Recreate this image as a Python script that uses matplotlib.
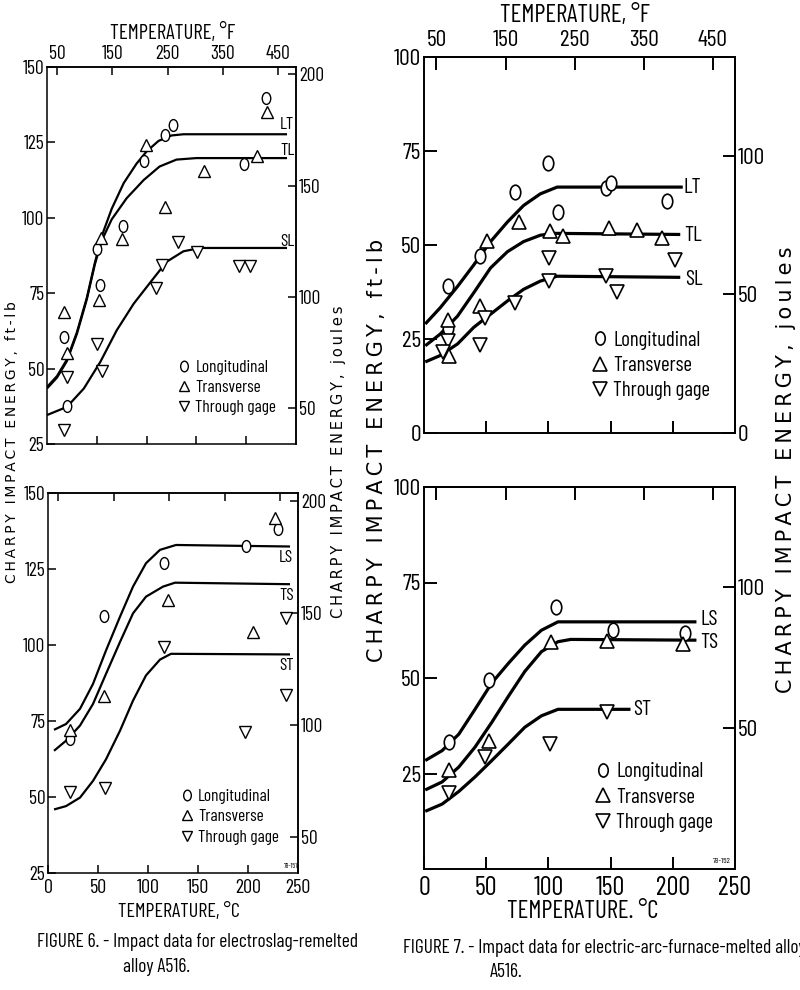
import matplotlib
matplotlib.use('Agg')
import matplotlib.pyplot as plt
from matplotlib import font_manager
from matplotlib.path import Path
from matplotlib.transforms import Affine2D
from matplotlib.lines import Line2D

# ---------------- data ----------------
# Figure 6, upper panel (LT, TL, SL)
f6a_long_x = [17, 20, 50, 53, 76, 97, 118, 127, 198, 220]
f6a_long_y = [60.5, 37.6, 89.8, 77.8, 97.2, 118.8, 127.6, 130.7, 118.0, 139.7]
f6a_trans_x = [17, 20, 52, 54.5, 75, 99, 118, 157.5, 211, 221]
f6a_trans_y = [68.8, 55.2, 72.9, 93.4, 92.9, 124.3, 103.6, 115.4, 120.4, 135.1]
f6a_thru_x = [17, 20, 50, 55, 109, 115, 132, 151, 193, 204]
f6a_thru_y = [29.6, 47.2, 58.1, 49.2, 76.7, 84.3, 92.0, 88.7, 84.0, 84.0]
f6a_lt_x = [0, 10, 20, 30, 40, 48, 55, 65, 77, 90, 100, 112, 125, 137, 241]
f6a_lt_y = [43.9, 47.5, 53, 62, 73.5, 85, 94, 103, 111.5, 118, 122, 125.5, 127.3, 127.7, 127.7]
f6a_tl_x = [0, 10, 20, 30, 40, 48, 55, 65, 80, 97, 113, 130, 150, 241]
f6a_tl_y = [43.4, 47, 52.5, 61.5, 73, 84.5, 92.5, 99.5, 106.5, 112.5, 117, 119.3, 119.8, 119.8]
f6a_sl_x = [0, 20, 37, 53.5, 70, 87, 104, 120, 137, 154, 241]
f6a_sl_y = [34.6, 37.3, 43.4, 52.2, 62.7, 71.5, 78.7, 85.4, 88.9, 90, 90]

# Figure 6, lower panel (LS, TS, ST)
f6b_long_x = [22, 56, 116, 198, 230]
f6b_long_y = [69.1, 109.5, 126.9, 132.7, 138.1]
f6b_trans_x = [22, 56, 120, 205, 227]
f6b_trans_y = [72, 83.1, 114.8, 104.3, 141.7]
f6b_thru_x = [22, 57, 116, 197, 238, 238]
f6b_thru_y = [51.8, 52.9, 99.3, 71.5, 109, 83.6]
f6b_ls_x = [6, 18, 32, 45, 58, 72, 85, 98, 112, 128, 242]
f6b_ls_y = [72.1, 74, 79, 87.2, 98.2, 109.3, 119.2, 126.9, 131.3, 132.9, 132.4]
f6b_ts_x = [6, 18, 32, 45, 58, 72, 85, 98, 115, 127, 242]
f6b_ts_y = [65.2, 68.5, 73.5, 80.6, 90.5, 101, 110.4, 115.9, 119.2, 120.5, 120]
f6b_st_x = [6, 18, 32, 45, 58, 72, 85, 98, 112, 123, 242]
f6b_st_y = [45.9, 47, 49.8, 55.3, 62.4, 71.8, 81.7, 90, 95.2, 97.1, 96.9]

# Figure 7, upper panel (LT, TL, SL)
f7a_long_x = [19, 19, 45, 73, 100, 107.5, 146.5, 150, 195]
f7a_long_y = [39, 28, 47, 64.2, 71.9, 58.8, 65.1, 66.6, 61.6]
f7a_trans_x = [19, 20, 45, 50.5, 76.7, 101.3, 111.8, 148.4, 171, 191.2]
f7a_trans_y = [30.1, 20.5, 33.7, 51, 56, 53.8, 52.5, 54.6, 53.9, 51.8]
f7a_thru_x = [19, 15.5, 45, 49, 73, 100.3, 100.3, 146.5, 155, 202]
f7a_thru_y = [24.6, 21.6, 23.5, 30.7, 34.7, 46.5, 40.4, 41.7, 37.5, 46.1]
f7a_lt_x = [1, 13, 27, 40, 53.5, 67, 80, 93.5, 107, 208]
f7a_lt_y = [29, 33.3, 39, 44.7, 50.9, 56.1, 60.5, 63.6, 65.4, 65.4]
f7a_tl_x = [1, 13, 27, 40, 53.5, 67, 80, 93.5, 104, 206]
f7a_tl_y = [23.2, 26.3, 31.1, 37.3, 43.9, 48.2, 50.9, 52.6, 53.1, 52.8]
f7a_sl_x = [1, 13, 27, 40, 53.5, 67, 80, 93.5, 107, 206]
f7a_sl_y = [18.9, 20.6, 23.7, 28.1, 31.6, 35.1, 38.2, 40.4, 41.7, 41.4]

# Figure 7, lower panel (LS, TS, ST)
f7b_long_x = [20, 52.4, 106, 151.6, 210]
f7b_long_y = [33.2, 49.4, 68.7, 62.5, 61.8]
f7b_trans_x = [20, 52, 102.4, 147, 208]
f7b_trans_y = [25.9, 33.6, 59.5, 59.7, 58.9]
f7b_thru_x = [20, 48.7, 101, 147]
f7b_thru_y = [19.8, 29.3, 32.8, 41.1]
f7b_ls_x = [1, 14.6, 28, 41, 54.5, 68, 81, 94.4, 107.7, 219]
f7b_ls_y = [28.4, 31, 35.3, 41.8, 48.7, 53.9, 58.6, 62.5, 64.7, 64.7]
f7b_ts_x = [1, 14.6, 28, 41, 54.5, 68, 81, 94.4, 107.7, 118, 219]
f7b_ts_y = [20.7, 22.8, 26.7, 31.9, 38.4, 45.3, 51.7, 56.9, 59.5, 60.1, 59.9]
f7b_st_x = [1, 14.6, 28, 41, 54.5, 68, 81, 94.4, 107.7, 166]
f7b_st_y = [15.1, 17, 20.3, 24.1, 28.4, 32.8, 37.1, 40.1, 41.8, 41.8]

series_names = ['Longitudinal', 'Transverse', 'Through gage']
f_ticks = [50, 150, 250, 350, 450]
c_ticks = [0, 50, 100, 150, 200, 250]

# ---------------- fonts ----------------
installed = {f.name for f in font_manager.fontManager.ttflist}
NARROW = 'DejaVu Sans'
for cand in ['Barlow Condensed', 'Roboto Condensed', 'Archivo Narrow', 'PT Sans Narrow',
             'Encode Sans Condensed', 'Liberation Sans Narrow']:
    if cand in installed:
        NARROW = cand
        break
plt.rcParams['font.family'] = [NARROW, 'DejaVu Sans']
WIDE = 'DejaVu Sans'

FT_TO_J = 1.3558


def ft2j(v):
    return v * FT_TO_J


def j2ft(v):
    return v / FT_TO_J


def c2f(c):
    return c * 9 / 5 + 32


def f2c(f):
    return (f - 32) * 5 / 9


def spaced(s):
    # the report letters its axis titles with wide tracking
    return '\u2009'.join(s)


# tall, condensed "O" as drawn in the report
oval = Path.unit_circle().transformed(Affine2D().scale(0.72, 1.0))
markers = [oval, '^', 'v']

small = dict(tick=14, tlen=6, alw=1.1, clw=1.6, ms=8.5, mew=1.0, leg=12.5, name=12.5,
             ctick=14.5, cpad=4, fpad=3)
big = dict(tick=17, tlen=9, alw=1.4, clw=2.3, ms=10.5, mew=1.2, leg=15, name=15.5,
           ctick=19, cpad=5, fpad=4)


def W(px):
    return px / 800


def H(py):
    return 1 - py / 990


def panel(rect, st, ylim, yticks, jticks, pts, curves, names, name_pos, leg_xy, bottom_labels, top_labels):
    ax = fig.add_axes(rect)
    ax.set_xlim(0, 250)
    ax.set_ylim(*ylim)
    for sp in ax.spines.values():
        sp.set_linewidth(st['alw'])
    for (cx, cy) in curves:
        ax.plot(cx, cy, color='black', lw=st['clw'], solid_capstyle='butt', zorder=2)
    for (px, py), mk in zip(pts, markers):
        ax.plot(px, py, ls='none', marker=mk, ms=st['ms'], mfc='white', mec='black',
                mew=st['mew'], zorder=3, clip_on=False)
    for nm, (nx, ny) in zip(names, name_pos):
        ax.text(nx, ny, nm, fontsize=st['name'], ha='left', va='center', zorder=4)

    ax.set_yticks(yticks)
    ax.tick_params(axis='y', direction='in', length=st['tlen'], width=st['alw'],
                   labelsize=st['tick'], pad=2)
    if bottom_labels:
        ax.set_xticks(c_ticks)
        ax.tick_params(axis='x', direction='in', length=st['tlen'], width=st['alw'],
                       labelsize=st['ctick'], pad=st['cpad'])
    else:
        ax.set_xticks(c_ticks[1:-1])
        ax.tick_params(axis='x', direction='in', length=st['tlen'], width=st['alw'],
                       labelbottom=False)

    sy = ax.secondary_yaxis('right', functions=(ft2j, j2ft))
    sy.set_yticks(jticks)
    sy.tick_params(direction='in', length=st['tlen'], width=st['alw'],
                   labelsize=st['tick'], pad=2)
    sy.spines['right'].set_linewidth(st['alw'])

    sx = ax.secondary_xaxis('top', functions=(c2f, f2c))
    sx.set_xticks(f_ticks)
    sx.tick_params(direction='in', length=st['tlen'], width=st['alw'],
                   labelsize=st['tick'], pad=st['fpad'])
    sx.spines['top'].set_linewidth(st['alw'])
    if not top_labels:
        sx.set_xticklabels([])

    handles = [Line2D([], [], ls='none', marker=mk, ms=st['ms'] * 0.9, mfc='white',
                      mec='black', mew=st['mew']) for mk in markers]
    ax.legend(handles, series_names, loc='center left', bbox_to_anchor=leg_xy,
              frameon=False, fontsize=st['leg'], handlelength=0.6, handletextpad=0.35,
              labelspacing=0.3, borderpad=0, borderaxespad=0)
    return ax


fig = plt.figure(figsize=(8, 9.9), dpi=100)
fig.patch.set_facecolor('white')

# Figure 6 upper
panel([W(47), H(444), W(249), (444 - 67) / 990], small, (25, 150),
      [25, 50, 75, 100, 125, 150], [50, 100, 150, 200],
      [(f6a_long_x, f6a_long_y), (f6a_trans_x, f6a_trans_y), (f6a_thru_x, f6a_thru_y)],
      [(f6a_lt_x, f6a_lt_y), (f6a_tl_x, f6a_tl_y), (f6a_sl_x, f6a_sl_y)],
      ['LT', 'TL', 'SL'], [(234, 131), (234, 122.4), (234, 92.2)],
      (0.53, 0.15), False, True)

# Figure 6 lower
ax6b = panel([W(48), H(873), W(250), (873 - 493) / 990], small, (25, 150),
             [25, 50, 75, 100, 125, 150], [50, 100, 150, 200],
             [(f6b_long_x, f6b_long_y), (f6b_trans_x, f6b_trans_y), (f6b_thru_x, f6b_thru_y)],
             [(f6b_ls_x, f6b_ls_y), (f6b_ts_x, f6b_ts_y), (f6b_st_x, f6b_st_y)],
             ['LS', 'TS', 'ST'], [(231, 128.7), (231, 116.2), (231, 93.3)],
             (0.535, 0.148), True, False)
ax6b.text(236, 27, '78-151', fontsize=5, ha='left', va='center')

# Figure 7 upper
panel([W(424), H(433), W(311), (433 - 57) / 990], big, (0, 100),
      [0, 25, 50, 75, 100], [0, 50, 100],
      [(f7a_long_x, f7a_long_y), (f7a_trans_x, f7a_trans_y), (f7a_thru_x, f7a_thru_y)],
      [(f7a_lt_x, f7a_lt_y), (f7a_tl_x, f7a_tl_y), (f7a_sl_x, f7a_sl_y)],
      ['LT', 'TL', 'SL'], [(209, 65.2), (209, 52.6), (210, 40.8)],
      (0.545, 0.18), False, True)

# Figure 7 lower
ax7b = panel([W(424), H(869), W(311), (869 - 487) / 990], big, (0, 100),
             [25, 50, 75, 100], [50, 100],
             [(f7b_long_x, f7b_long_y), (f7b_trans_x, f7b_trans_y), (f7b_thru_x, f7b_thru_y)],
             [(f7b_ls_x, f7b_ls_y), (f7b_ts_x, f7b_ts_y), (f7b_st_x, f7b_st_y)],
             ['LS', 'TS', 'ST'], [(222, 65.3), (222, 59.2), (168, 41.8)],
             (0.555, 0.188), True, False)
ax7b.text(232, 2, '78-152', fontsize=6, ha='left', va='center')

# axis titles and captions
fig.text(W(173), H(33), 'TEMPERATURE, °F', fontsize=15, ha='center', va='center')
fig.text(W(575), H(15), 'TEMPERATURE, °F', fontsize=18, ha='center', va='center')
fig.text(W(179), H(912), 'TEMPERATURE, °C', fontsize=14.5, ha='center', va='center')
fig.text(W(583), H(912), 'TEMPERATURE. °C', fontsize=18, ha='center', va='center')

fig.text(W(12), H(442), spaced('CHARPY IMPACT ENERGY, ft-lb'), family=WIDE, fontsize=10,
         rotation=90, ha='center', va='center')
fig.text(W(339), H(462), spaced('CHARPY IMPACT ENERGY, joules'), family=WIDE, fontsize=10.5,
         rotation=90, ha='center', va='center')
fig.text(W(377), H(450), spaced('CHARPY IMPACT ENERGY, ft-lb'), family=WIDE, fontsize=15,
         rotation=90, ha='center', va='center')
fig.text(W(786), H(470), spaced('CHARPY IMPACT ENERGY, joules'), family=WIDE, fontsize=15,
         rotation=90, ha='center', va='center')

fig.text(W(37), H(942), 'FIGURE 6. - Impact data for electroslag-remelted', fontsize=14,
         ha='left', va='center')
fig.text(W(123), H(967), 'alloy A516.', fontsize=14, ha='left', va='center')
fig.text(W(403), H(948), 'FIGURE 7. - Impact data for electric-arc-furnace-melted alloy',
         fontsize=14, ha='left', va='center')
fig.text(W(490), H(972), 'A516.', fontsize=14, ha='left', va='center')

fig.savefig('out.png', dpi=100, facecolor='white')
plt.close(fig)
